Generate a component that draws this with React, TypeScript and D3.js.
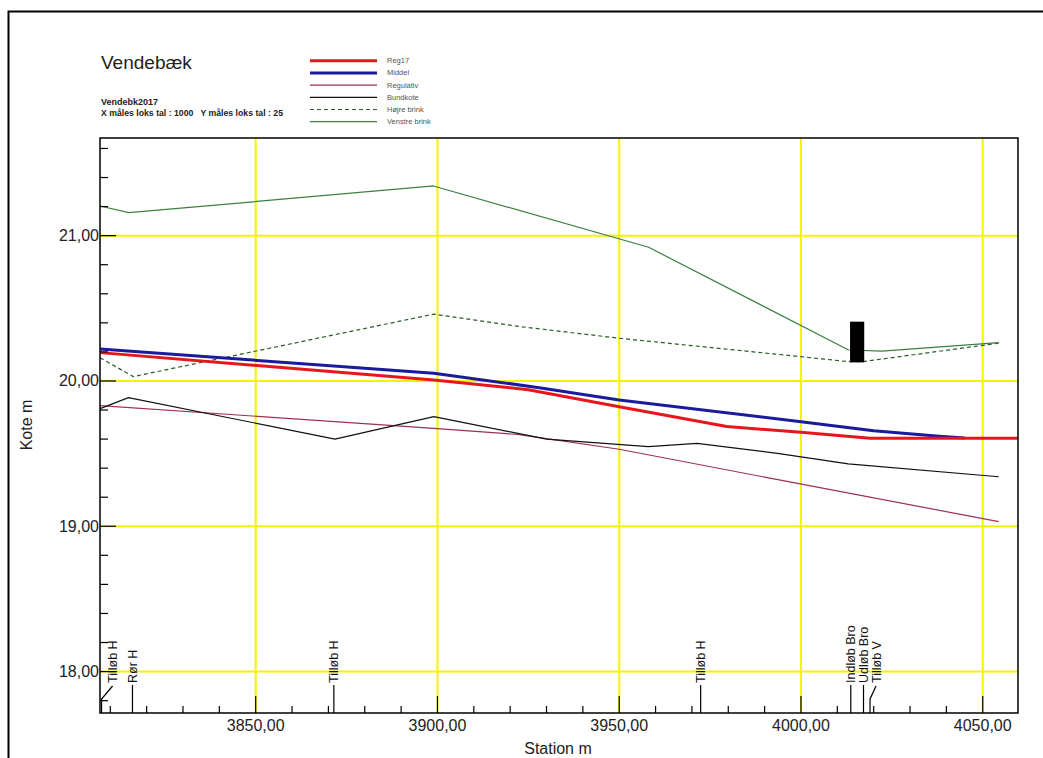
import React from "react";
import * as d3 from "d3";

// ---- data (station m, kote m) ----
const reg17: [number, number][] = [
  [3807.2, 20.195], [3899, 20.007], [3925, 19.94], [3950, 19.823], [3979.6, 19.686],
  [4000, 19.647], [4019, 19.605], [4059.7, 19.605],
];
const middel: [number, number][] = [
  [3807.2, 20.22], [3899, 20.053], [3928, 19.954], [3950, 19.869], [4000, 19.72],
  [4020, 19.658], [4038, 19.62], [4045, 19.607],
];
const regulativ: [number, number][] = [
  [3807.2, 19.83], [3899, 19.674], [3922, 19.632], [3950, 19.53], [3994, 19.319], [4054.4, 19.032],
];
const bundkote: [number, number][] = [
  [3807.2, 19.81], [3815, 19.885], [3871.8, 19.6], [3899, 19.755], [3930, 19.6],
  [3958, 19.548], [3971.4, 19.571], [3994, 19.5], [4013, 19.43], [4054.4, 19.341],
];
const hoejreBrink: [number, number][] = [
  [3807.2, 20.16], [3816.3, 20.03], [3899, 20.46], [3922.8, 20.374], [3950, 20.294],
  [4000, 20.167], [4013, 20.133], [4017, 20.133], [4054.4, 20.26],
];
const venstreBrink: [number, number][] = [
  [3807.2, 21.204], [3815.1, 21.158], [3898.9, 21.342], [3958.1, 20.92], [4013.1, 20.213],
  [4022.3, 20.206], [4054.4, 20.264],
];
const broBox = { x0: 4013.5, x1: 4017.4, y0: 20.128, y1: 20.408 };

const xMajor = [3850, 3900, 3950, 4000, 4050];
const xMajorLabels = ["3850,00", "3900,00", "3950,00", "4000,00", "4050,00"];
const yMajor = [18, 19, 20, 21];
const yMajorLabels = ["18,00", "19,00", "20,00", "21,00"];

const markerStations = [3807.6, 3816.1, 3871.5, 3972.4, 4013.7, 4017.2, 4019.0];
const markerLabels = ["Tilløb H", "Rør H", "Tilløb H", "Tilløb H", "Indløb Bro", "Udløb Bro", "Tilløb V"];
const markerOffset = [11, 0, 0, 0, 0, 0, 6];

const legendNames = ["Reg17", "Middel", "Regulativ", "Bundkote", "Højre brink", "Venstre brink"];
const legendColors = ["#e8161b", "#1a1a9c", "#a03050", "#111111", "#2a5a2a", "#3a8040"];
const legendWidths = [3, 3, 1.2, 1.2, 1.2, 1.2];
const legendDash = ["", "", "", "", "4,3", ""];

const FONT = "Arial, 'Liberation Sans', sans-serif";

export default function App() {
  React.useEffect(() => {
    document.body.style.margin = "0";
    document.body.style.overflow = "hidden";
  }, []);

  const L = 100, R = 1018, T = 138, B = 713;
  const x = d3.scaleLinear().domain([3807.17, 4059.7]).range([L, R]);
  const y = d3.scaleLinear().domain([17.715, 21.672]).range([B, T]);
  const line = d3.line<[number, number]>().x((d) => x(d[0])).y((d) => y(d[1]));

  const xMinor = d3.range(3810, 4060, 10).filter((v) => v % 50 !== 0);
  const yMinor = d3.range(178, 217, 2).map((v) => v / 10).filter((v) => Math.abs(v - Math.round(v)) > 0.01);

  const series = [regulativ, bundkote, hoejreBrink, venstreBrink, middel, reg17];
  const seriesIdx = [2, 3, 4, 5, 1, 0];

  return (
    <svg width={1043} height={758} style={{ position: "absolute", left: 0, top: 0, background: "#fff", display: "block" }} fontFamily={FONT}>
      <rect x={0} y={0} width={1043} height={758} fill="#fff" />
      {/* outer frame */}
      <rect x={8.5} y={11.5} width={1200} height={900} fill="none" stroke="#000" strokeWidth={2} />

      {/* title block */}
      <text x={101} y={69} fontSize={19} fill="#222">Vendebæk</text>
      <text x={101} y={105} fontSize={9} fontWeight="bold" fill="#222" textLength={57} lengthAdjust="spacingAndGlyphs">Vendebk2017</text>
      <text x={101} y={116} fontSize={9} fontWeight="bold" fill="#222" textLength={182} lengthAdjust="spacingAndGlyphs" xmlSpace="preserve">X måles loks tal : 1000   Y måles loks tal : 25</text>

      {/* legend */}
      {legendNames.map((n, i) => {
        const ly = 60.7 + i * 12.2;
        return (
          <g key={n}>
            <line x1={310} x2={377} y1={ly} y2={ly} stroke={legendColors[i]} strokeWidth={legendWidths[i]} strokeDasharray={legendDash[i] || undefined} />
            <text x={387} y={ly + 2.5} fontSize={7.5} fill="#555">{n}</text>
          </g>
        );
      })}

      {/* grid */}
      {xMajor.map((v) => (
        <line key={"gx" + v} x1={x(v)} x2={x(v)} y1={T} y2={B} stroke="#f4f400" strokeWidth={2} />
      ))}
      {yMajor.map((v) => (
        <line key={"gy" + v} x1={L} x2={R} y1={y(v)} y2={y(v)} stroke="#f4f400" strokeWidth={2} />
      ))}

      {/* series */}
      {series.map((s, k) => {
        const i = seriesIdx[k];
        return (
          <path key={"s" + i} d={line(s) || ""} fill="none" stroke={legendColors[i]} strokeWidth={legendWidths[i]} strokeDasharray={legendDash[i] || undefined} strokeLinejoin="round" />
        );
      })}

      {/* bridge box */}
      <rect x={x(broBox.x0)} y={y(broBox.y1)} width={x(broBox.x1) - x(broBox.x0)} height={y(broBox.y0) - y(broBox.y1)} fill="#000" />

      {/* markers */}
      {markerStations.map((s, i) => {
        const mx = x(s);
        const off = markerOffset[i];
        const lx = mx + off;
        return (
          <g key={"m" + i}>
            {off === 0 ? (
              <line x1={mx} x2={mx} y1={B} y2={685} stroke="#000" strokeWidth={1.2} />
            ) : (
              <polyline points={`${mx},${B} ${mx},699 ${lx},686`} fill="none" stroke="#000" strokeWidth={1.2} />
            )}
            <text transform={`translate(${lx + 4.5},683) rotate(-90)`} fontSize={12.5} fill="#111">{markerLabels[i]}</text>
          </g>
        );
      })}

      {/* axes ticks */}
      {xMinor.map((v) => (
        <line key={"xm" + v} x1={x(v)} x2={x(v)} y1={B} y2={B - 7} stroke="#000" strokeWidth={1.2} />
      ))}
      {xMajor.map((v, i) => (
        <g key={"xM" + v}>
          <line x1={x(v)} x2={x(v)} y1={B} y2={B - 17} stroke="#000" strokeWidth={1.2} />
          <text x={x(v)} y={731} fontSize={16} textAnchor="middle" fill="#222">{xMajorLabels[i]}</text>
        </g>
      ))}
      {yMinor.map((v) => (
        <line key={"ym" + v} x1={L} x2={L + 8} y1={y(v)} y2={y(v)} stroke="#000" strokeWidth={1.2} />
      ))}
      {yMajor.map((v, i) => (
        <g key={"yM" + v}>
          <line x1={L} x2={L + 16} y1={y(v)} y2={y(v)} stroke="#000" strokeWidth={1.2} />
          <text x={99} y={y(v) + 5.5} fontSize={16} textAnchor="end" fill="#222">{yMajorLabels[i]}</text>
        </g>
      ))}

      {/* plot frame */}
      <rect x={L} y={T} width={R - L} height={B - T} fill="none" stroke="#000" strokeWidth={1.5} />

      {/* axis titles */}
      <text x={558} y={754} fontSize={16} textAnchor="middle" fill="#222">Station m</text>
      <text transform="translate(32,425) rotate(-90)" fontSize={16} textAnchor="middle" fill="#222">Kote m</text>
    </svg>
  );
}
